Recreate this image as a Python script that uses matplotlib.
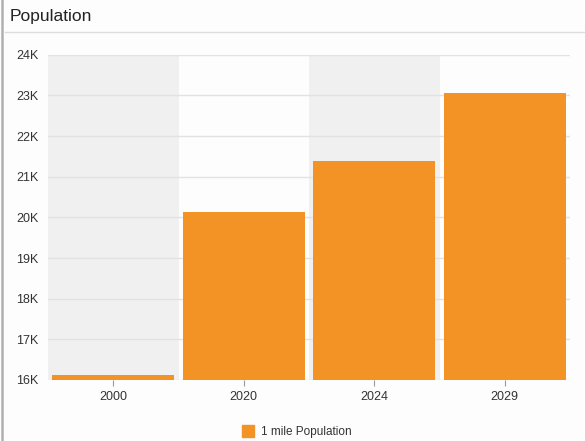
import matplotlib.pyplot as plt
from matplotlib.lines import Line2D
from matplotlib.ticker import FuncFormatter

plt.rcParams['font.family'] = ['Liberation Sans', 'DejaVu Sans']

# data
years = ["2000", "2020", "2024", "2029"]
population = [16120, 20120, 21380, 23060]
series_name = "1 mile Population"

ORANGE = "#f39325"
BAND = "#f0f0f0"
GRID = "#e2e2e2"
TEXT = "#333333"

fig = plt.figure(figsize=(5.85, 4.41), dpi=100)
fig.patch.set_facecolor("#fdfdfd")

ax = fig.add_axes([48 / 585, 1 - 380 / 441, (570 - 48) / 585, (380 - 54.7) / 441])
ax.set_facecolor("none")

x = list(range(len(years)))

# alternating category bands
for i in x:
    if i % 2 == 0:
        ax.axvspan(i - 0.5, i + 0.5, ymin=0, ymax=(23970 - 16000) / 8000,
                   color=BAND, zorder=0, lw=0)

ax.bar(x, population, width=0.935, color=ORANGE, zorder=3, bottom=0)

ax.set_ylim(16000, 24000)
ax.set_xlim(-0.5, len(years) - 0.5)
ax.set_yticks(range(16000, 24001, 1000))
ax.yaxis.set_major_formatter(FuncFormatter(lambda v, p: f"{int(v / 1000)}K"))
ax.yaxis.grid(True, color=GRID, lw=1, zorder=1)
ax.set_axisbelow(True)

ax.set_xticks(x)
ax.set_xticklabels(years)
ax.tick_params(axis="x", length=4, color="#999999", labelsize=9,
               labelcolor=TEXT, pad=4)
ax.tick_params(axis="y", length=0, labelsize=9, labelcolor=TEXT, pad=7)

for s in ax.spines.values():
    s.set_visible(False)

# header
fig.text(10 / 585, 1 - 16 / 441, "Population", fontsize=12.5, color="#222222",
         va="center", ha="left")
fig.add_artist(Line2D([5 / 585, 1], [1 - 32 / 441, 1 - 32 / 441],
                      color="#dddddd", lw=1))
fig.add_artist(Line2D([2 / 585, 2 / 585], [0, 1], color="#b0b0b0", lw=1.8))

handle = Line2D([], [], marker="s", color="none", markerfacecolor=ORANGE,
                markeredgecolor=ORANGE, markersize=8.5)
fig.legend([handle], [series_name], loc="center", bbox_to_anchor=(296 / 585, 1 - 432 / 441),
           frameon=False, fontsize=8.5, handletextpad=0.5, handlelength=1.2,
           labelcolor=TEXT)

fig.savefig("out.png", dpi=100, facecolor=fig.get_facecolor())
